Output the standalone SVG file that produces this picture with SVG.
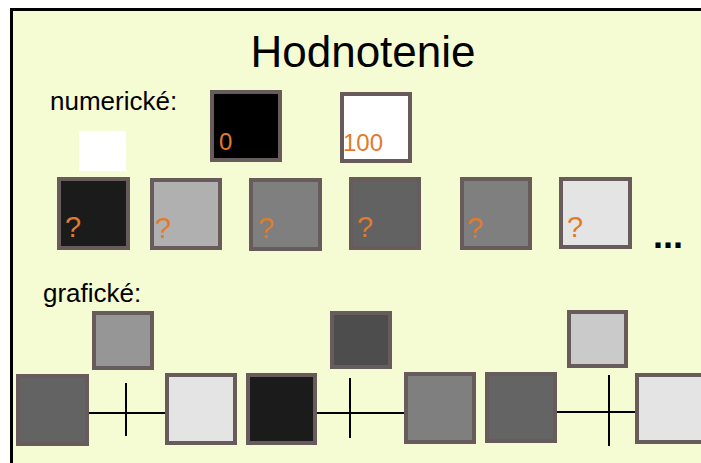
<svg xmlns="http://www.w3.org/2000/svg" width="701" height="463" viewBox="0 0 701 463">
<style>
.bx{stroke:#675b5b;stroke-width:4}
.t{font-family:"Liberation Sans",Arial,sans-serif;fill:#000}
.o{font-family:"Liberation Sans",Arial,sans-serif;fill:#e07b2b;font-size:24px}
.q{font-family:"Liberation Sans",Arial,sans-serif;fill:#e07b2b;font-size:29px}
.ln{stroke:#000;stroke-width:2;fill:none}
</style>
<rect x="0" y="0" width="701" height="463" fill="#ffffff"/>
<rect x="11.5" y="9.5" width="760" height="500" fill="#f5fcd4" stroke="#000" stroke-width="3"/>
<text class="t" x="363" y="67" font-size="44" text-anchor="middle">Hodnotenie</text>
<text class="t" x="50" y="110" font-size="26">numerické:</text>
<text class="t" x="43" y="302" font-size="26">grafické:</text>

<g id="b0"><rect class="bx" x="212" y="92" width="68" height="68" fill="#000"/><text class="o" x="219" y="150">0</text></g>
<g id="b100"><rect class="bx" x="342" y="94" width="68" height="67" fill="#fff"/><text class="o" x="343" y="151">100</text></g>
<g id="white"><rect x="79" y="131" width="47" height="40" fill="#fff"/></g>

<g id="q1"><rect class="bx" x="59" y="179" width="69" height="69" fill="#1b1b1b"/><text class="q" x="65" y="237">?</text></g>
<g id="q2"><rect class="bx" x="152" y="180" width="68" height="68" fill="#b0b0b0"/><text class="q" x="155" y="238">?</text></g>
<g id="q3"><rect class="bx" x="251" y="180" width="69" height="69" fill="#7f7f7f"/><text class="q" x="258" y="238">?</text></g>
<g id="q4"><rect class="bx" x="351" y="179" width="68" height="69" fill="#626262"/><text class="q" x="357" y="237">?</text></g>
<g id="q5"><rect class="bx" x="462" y="179" width="68" height="69" fill="#7f7f7f"/><text class="q" x="467" y="238">?</text></g>
<g id="q6"><rect class="bx" x="561" y="179" width="69" height="68" fill="#e4e4e4"/><text class="q" x="567" y="237">?</text></g>
<g id="dots"><text class="t" x="653" y="248" font-size="36" font-weight="bold">...</text></g>

<g id="connectors">
<line class="ln" x1="89" y1="413" x2="165" y2="413"/>
<line class="ln" x1="126" y1="383" x2="126" y2="436"/>
<line class="ln" x1="317" y1="413" x2="404" y2="413"/>
<line class="ln" x1="350" y1="378" x2="350" y2="438"/>
<line class="ln" x1="557" y1="412" x2="635" y2="412"/>
<line class="ln" x1="609" y1="375" x2="609" y2="446"/>
</g>

<g id="u1"><rect class="bx" x="94" y="313" width="58" height="55" fill="#969696"/></g>
<g id="u2"><rect class="bx" x="332" y="313" width="58" height="54" fill="#4d4d4d"/></g>
<g id="u3"><rect class="bx" x="569" y="312" width="57" height="54" fill="#cacaca"/></g>

<g id="gA"><rect class="bx" x="18" y="376" width="69" height="68" fill="#636363"/></g>
<g id="gB"><rect class="bx" x="167" y="375" width="68" height="68" fill="#e4e4e4"/></g>
<g id="gC"><rect class="bx" x="248" y="375" width="67" height="68" fill="#1b1b1b"/></g>
<g id="gD"><rect class="bx" x="406" y="374" width="68" height="68" fill="#7f7f7f"/></g>
<g id="gE"><rect class="bx" x="487" y="374" width="68" height="67" fill="#646464"/></g>
<g id="gF"><rect class="bx" x="637" y="375" width="68" height="67" fill="#e4e4e4"/></g>
</svg>
